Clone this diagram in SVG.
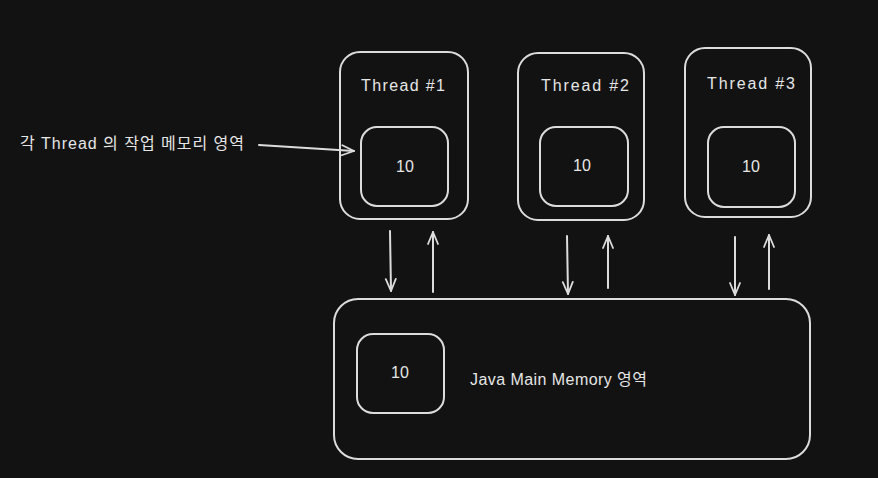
<svg xmlns="http://www.w3.org/2000/svg" width="878" height="478" viewBox="0 0 878 478">
<defs>
<marker id="ah" viewBox="0 0 14 14" refX="13" refY="7" markerWidth="14" markerHeight="14" markerUnits="userSpaceOnUse" orient="auto">
<path d="M1,2 L13,7 L1,12" fill="none" stroke="#dcdcdc" stroke-width="1.8" stroke-linecap="round" stroke-linejoin="round"/>
</marker>
<style>
.box{fill:none;stroke:#dcdcdc;stroke-width:2}
.t{fill:#e6e6e6;font-family:"Liberation Sans","Noto Sans CJK KR",sans-serif;font-size:16px}
.c{text-anchor:middle}
.ln{fill:none;stroke:#dcdcdc;stroke-width:2;stroke-linecap:round}
</style>
</defs>
<rect width="878" height="478" fill="#121212"/>
<g id="thread1">
<rect class="box" x="340" y="52" width="128" height="167" rx="20"/>
<text class="t c" x="403" y="91" textLength="84" lengthAdjust="spacing">Thread #1</text>
<rect class="box" x="361" y="127" width="87" height="79" rx="16"/>
<text class="t c" x="405" y="172">10</text>
</g>
<g id="thread2">
<rect class="box" x="518" y="53" width="126" height="167" rx="20"/>
<text class="t c" x="585" y="91" textLength="88" lengthAdjust="spacing">Thread #2</text>
<rect class="box" x="540" y="127" width="88" height="79" rx="16"/>
<text class="t c" x="582" y="171">10</text>
</g>
<g id="thread3">
<rect class="box" x="685" y="48" width="126" height="169" rx="20"/>
<text class="t c" x="751" y="89" textLength="88" lengthAdjust="spacing">Thread #3</text>
<rect class="box" x="708" y="127" width="87" height="80" rx="16"/>
<text class="t c" x="751" y="172">10</text>
</g>
<g id="main-memory">
<rect class="box" x="334" y="299" width="476" height="160" rx="24"/>
<rect class="box" x="357" y="334" width="87" height="79" rx="16"/>
<text class="t c" x="400" y="378">10</text>
<text class="t" x="470" y="385" textLength="177" lengthAdjust="spacing">Java Main Memory 영역</text>
</g>
<g id="label">
<text class="t" x="20" y="149" textLength="224" lengthAdjust="spacing">각 Thread 의 작업 메모리 영역</text>
</g>
<g id="connectors">
<path class="ln" d="M259,145 L354,151" marker-end="url(#ah)"/>
<path class="ln" d="M390,231 L391,291" marker-end="url(#ah)"/>
<path class="ln" d="M433,292 L433,232" marker-end="url(#ah)"/>
<path class="ln" d="M567,236 L568,294" marker-end="url(#ah)"/>
<path class="ln" d="M608,288 L608,236" marker-end="url(#ah)"/>
<path class="ln" d="M735,237 L735,295" marker-end="url(#ah)"/>
<path class="ln" d="M769,289 L769,235" marker-end="url(#ah)"/>
</g>
</svg>
